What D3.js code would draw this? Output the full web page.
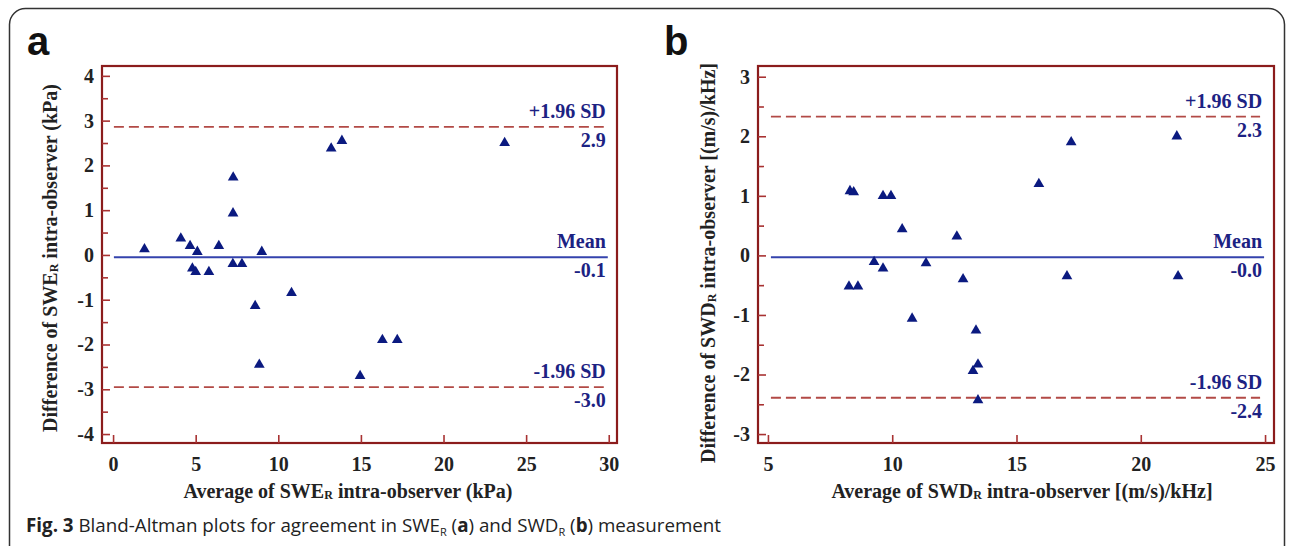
<!DOCTYPE html>
<html><head><meta charset="utf-8">
<script src="https://cdn.jsdelivr.net/npm/d3@7"></script>
<style>
html,body{margin:0;padding:0;background:#fff;}
svg{display:block;}
</style></head>
<body>
<svg id="chart" width="1290" height="546"></svg>
<script>
// ---------- data ----------
const aX = [1.9, 4.1, 4.66, 5.1, 4.8, 5.0, 5.8, 6.4, 7.27, 7.26, 7.25, 7.8, 9.0, 8.6, 10.8, 8.85, 13.2, 13.85, 23.7, 16.3, 17.2, 14.95];
const aY = [0.13, 0.37, 0.2, 0.07, -0.3, -0.38, -0.38, 0.2, 1.73, 0.93, -0.2, -0.2, 0.07, -1.14, -0.85, -2.45, 2.38, 2.55, 2.5, -1.9, -1.9, -2.7];
const bX = [8.3, 8.45, 9.63, 9.95, 10.4, 9.27, 9.63, 11.36, 12.6, 12.85, 8.26, 8.62, 10.8, 13.37, 13.25, 13.45, 13.45, 17.03, 21.5, 17.2, 15.9, 21.45];
const bY = [1.08, 1.06, 1.0, 1.0, 0.44, -0.11, -0.22, -0.13, 0.32, -0.4, -0.52, -0.52, -1.06, -1.26, -1.94, -1.83, -2.43, -0.35, -0.35, 1.9, 1.2, 2.0];

const aXTicks = [0, 5, 10, 15, 20, 25, 30];
const aYTicks = [-4, -3, -2, -1, 0, 1, 2, 3, 4];
const aYMinor = [-3.5, -2.5, -1.5, -0.5, 0.5, 1.5, 2.5, 3.5];
const bXTicks = [5, 10, 15, 20, 25];
const bYTicks = [-3, -2, -1, 0, 1, 2, 3];
const bYMinor = [-2.5, -1.5, -0.5, 0.5, 1.5, 2.5];

// Bland-Altman lines: [upper, mean, lower]
const aLimits = [2.86, -0.05, -2.95];
const bLimits = [2.33, -0.03, -2.39];
const aLimitValues = ["2.9", "-0.1", "-3.0"];
const bLimitValues = ["2.3", "-0.0", "-2.4"];
const limitNames = ["+1.96 SD", "Mean", "-1.96 SD"];

// ---------- drawing ----------
const svg = d3.select("#chart");
const SERIF = "'Liberation Serif','Times New Roman',serif";
const FRAME = "#8b1c1c";

// outer rounded frame
svg.append("rect").attr("x", 9.5).attr("y", 8.5).attr("width", 1275).attr("height", 560)
  .attr("rx", 16).attr("fill", "none").attr("stroke", "#333").attr("stroke-width", 1.5);

function panel(cfg) {
  const x = d3.scaleLinear().domain(cfg.xDomain).range([cfg.left, cfg.right]);
  const y = d3.scaleLinear().domain(cfg.yDomain).range([cfg.bottom, cfg.top]);
  const g = svg.append("g");

  // limit lines
  const lineX0 = x(cfg.lineX[0]), lineX1 = x(cfg.lineX[1]);
  cfg.limits.forEach((v, i) => {
    const isMean = i === 1;
    g.append("line")
      .attr("x1", lineX0).attr("x2", isMean ? lineX1 + 4 : lineX1)
      .attr("y1", y(v)).attr("y2", y(v))
      .attr("stroke", isMean ? "#3443ad" : "#b24a46")
      .attr("stroke-width", isMean ? 2 : 1.8)
      .attr("stroke-dasharray", isMean ? null : "10,5");
    g.append("text").attr("x", lineX1 + 2).attr("y", y(v) - 9)
      .attr("text-anchor", "end").attr("font-family", SERIF).attr("font-weight", "bold")
      .attr("font-size", 20).attr("fill", "#1c2283").text(limitNames[i]);
    g.append("text").attr("x", lineX1 + 2).attr("y", y(v) + 20)
      .attr("text-anchor", "end").attr("font-family", SERIF).attr("font-weight", "bold")
      .attr("font-size", 20).attr("fill", "#1c2283").text(cfg.limitValues[i]);
  });

  // points
  const sym = d3.symbol().type(d3.symbolTriangle).size(50);
  g.selectAll("path.pt").data(cfg.xs.map((d, i) => [d, cfg.ys[i]])).join("path")
    .attr("class", "pt")
    .attr("transform", d => `translate(${x(d[0])},${y(d[1])})`)
    .attr("d", sym).attr("fill", "#0b1a80");

  // frame box
  g.append("rect").attr("x", cfg.left).attr("y", cfg.top)
    .attr("width", cfg.right - cfg.left).attr("height", cfg.bottom - cfg.top)
    .attr("fill", "none").attr("stroke", FRAME).attr("stroke-width", 2.2);

  // axes (ticks inward)
  const fmt = d => String(d);
  const xAxis = d3.axisBottom(x).tickValues(cfg.xTicks).tickFormat(fmt).tickSizeInner(-8).tickSizeOuter(0).tickPadding(14);
  const xg = g.append("g").attr("transform", `translate(0,${cfg.bottom})`).call(xAxis);
  const yAxis = d3.axisLeft(y).tickValues(cfg.yTicks).tickFormat(fmt).tickSizeInner(-8).tickSizeOuter(0).tickPadding(8);
  const yg = g.append("g").attr("transform", `translate(${cfg.left},0)`).call(yAxis);
  const yMinor = d3.axisLeft(y).tickValues(cfg.yMinor).tickSizeInner(-6).tickSizeOuter(0).tickFormat("");
  const ymg = g.append("g").attr("transform", `translate(${cfg.left},0)`).call(yMinor);
  [xg, yg, ymg].forEach(a => {
    a.select(".domain").remove();
    a.selectAll(".tick line").attr("stroke", "#a83232").attr("stroke-width", 1.6);
    a.selectAll(".tick text").attr("font-family", SERIF).attr("font-weight", "bold")
      .attr("font-size", 20).attr("fill", "#222");
  });
  xg.selectAll(".tick text").attr("dy", "0.71em");

  // axis titles
  const xt = g.append("text").attr("x", cfg.xTitlePos[0]).attr("y", cfg.xTitlePos[1])
    .attr("text-anchor", "middle").attr("font-family", SERIF).attr("font-weight", "bold")
    .attr("font-size", 20).attr("fill", "#222");
  xt.append("tspan").text(cfg.xTitle[0]);
  xt.append("tspan").attr("font-size", 12).attr("dy", 1).text("R");
  xt.append("tspan").attr("dy", -1).text(cfg.xTitle[1]);

  const yt = g.append("text")
    .attr("transform", `translate(${cfg.yTitlePos[0]},${cfg.yTitlePos[1]}) rotate(-90)`)
    .attr("text-anchor", "middle").attr("font-family", SERIF).attr("font-weight", "bold")
    .attr("font-size", 20).attr("fill", "#222");
  yt.append("tspan").text(cfg.yTitle[0]);
  yt.append("tspan").attr("font-size", 12).attr("dy", 1).text("R");
  yt.append("tspan").attr("dy", -1).text(cfg.yTitle[1]);

  // panel letter
  svg.append("text").attr("x", cfg.letterPos[0]).attr("y", cfg.letterPos[1])
    .attr("font-family", "'Liberation Sans',Arial,sans-serif").attr("font-weight", "bold")
    .attr("font-size", 40).attr("fill", "#111").text(cfg.letter);
}

panel({
  xs: aX, ys: aY, xTicks: aXTicks, yTicks: aYTicks, yMinor: aYMinor,
  limits: aLimits, limitValues: aLimitValues,
  xDomain: [-0.67, 30.5], yDomain: [-4.2, 4.22],
  left: 102, right: 617, top: 66, bottom: 443,
  lineX: [0.05, 29.7],
  xTitle: ["Average of SWE", " intra-observer (kPa)"],
  yTitle: ["Difference of SWE", " intra-observer (kPa)"],
  xTitlePos: [348, 498], yTitlePos: [57, 258],
  letter: "a", letterPos: [27, 55]
});

panel({
  xs: bX, ys: bY, xTicks: bXTicks, yTicks: bYTicks, yMinor: bYMinor,
  limits: bLimits, limitValues: bLimitValues,
  xDomain: [4.6, 25.36], yDomain: [-3.15, 3.18],
  left: 758, right: 1274, top: 66, bottom: 443,
  lineX: [5.12, 24.8],
  xTitle: ["Average of SWD", " intra-observer [(m/s)/kHz]"],
  yTitle: ["Difference of SWD", " intra-observer [(m/s)/kHz]"],
  xTitlePos: [1022, 498], yTitlePos: [715, 263],
  letter: "b", letterPos: [664, 55]
});

// caption
const cap = svg.append("text").attr("x", 26).attr("y", 532)
  .attr("font-family", "'Open Sans','Noto Sans',sans-serif").attr("font-size", 17).attr("fill", "#222");
cap.append("tspan").attr("font-weight", "bold").text("Fig. 3");
cap.append("tspan").text(" Bland-Altman plots for agreement in SWE");
cap.append("tspan").attr("font-size", 11).attr("dy", 4).text("R");
cap.append("tspan").attr("dy", -4).text(" (");
cap.append("tspan").attr("font-weight", "bold").text("a");
cap.append("tspan").text(") and SWD");
cap.append("tspan").attr("font-size", 11).attr("dy", 4).text("R");
cap.append("tspan").attr("dy", -4).text(" (");
cap.append("tspan").attr("font-weight", "bold").text("b");
cap.append("tspan").text(") measurement");
// fit caption width to reference
const capW = cap.node().getComputedTextLength();
const targetW = 697;
cap.attr("font-size", 17 * targetW / capW);
</script>
</body></html>
